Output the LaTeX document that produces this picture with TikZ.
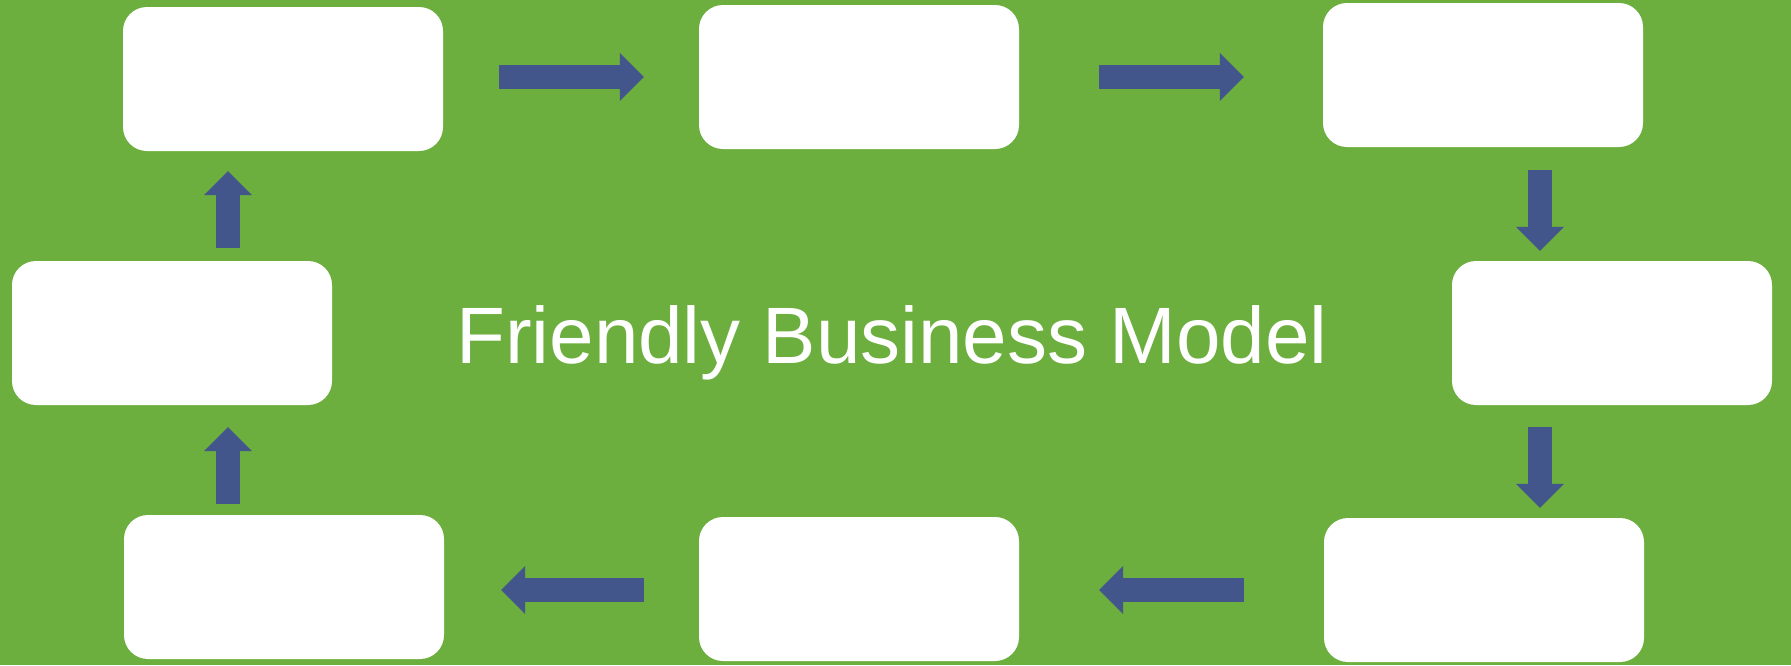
\documentclass[tikz,border=0pt]{standalone}
\usepackage{fontspec}
\setmainfont{Liberation Sans}
\usepackage{tikz}
\usetikzlibrary{arrows.meta}
\definecolor{bgGreen}{RGB}{108,175,62}
\definecolor{flowBlue}{RGB}{66,86,140}

\begin{document}
\begin{tikzpicture}[x=1pt,y=-1pt,
    card/.style={fill=white,rounded corners=24pt,minimum width=320pt,
                 minimum height=144pt,inner sep=0pt},
    flow/.style={draw=flowBlue,line width=24pt,
                 -{Triangle[length=24pt,width=48pt,line width=0pt]}}]
        \fill[bgGreen] (0,0) rectangle (1791,665);
        % the eight empty cards, clockwise from the top left
        \node[card] (topL) at (283,79) {};
        \node[card] (topM) at (859,77) {};
        \node[card] (topR) at (1483,75) {};
        \node[card] (midR) at (1612,333) {};
        \node[card] (botR) at (1484,590) {};
        \node[card] (botM) at (859,589) {};
        \node[card] (botL) at (284,587) {};
        \node[card] (midL) at (172,333) {};
        \coordinate (lcol) at (228,0);
        \coordinate (rcol) at (1540,0);

        \node[text=white,font=\fontsize{80pt}{96pt}\selectfont,anchor=base]
          (title) at (892,363) {Friendly Business Model};

        % arrows round the loop
        \draw[flow,shorten <=56pt,shorten >=55pt] (topL.east |- topM.west) -- (topM.west);
        \draw[flow,shorten <=80pt,shorten >=79pt] (topM.east) -- (topM.east -| topR.west);
        \draw[flow,shorten <=23pt,shorten >=10pt] (topR.south -| rcol) -- (midR.north -| rcol);
        \draw[flow,shorten <=22pt,shorten >=10pt] (midR.south -| rcol) -- (botR.north -| rcol);
        \draw[flow,shorten <=80pt,shorten >=80pt] (botR.west) -- (botR.west -| botM.east);
        \draw[flow,shorten <=55pt,shorten >=57pt] (botM.west |- botR.west) -- (botR.west -| botL.east);
        \draw[flow,shorten <=11pt,shorten >=22pt] (botL.north -| lcol) -- (midL.south -| lcol);
        \draw[flow,shorten <=13pt,shorten >=20pt] (midL.north -| lcol) -- (topL.south -| lcol);
\end{tikzpicture}
\end{document}
